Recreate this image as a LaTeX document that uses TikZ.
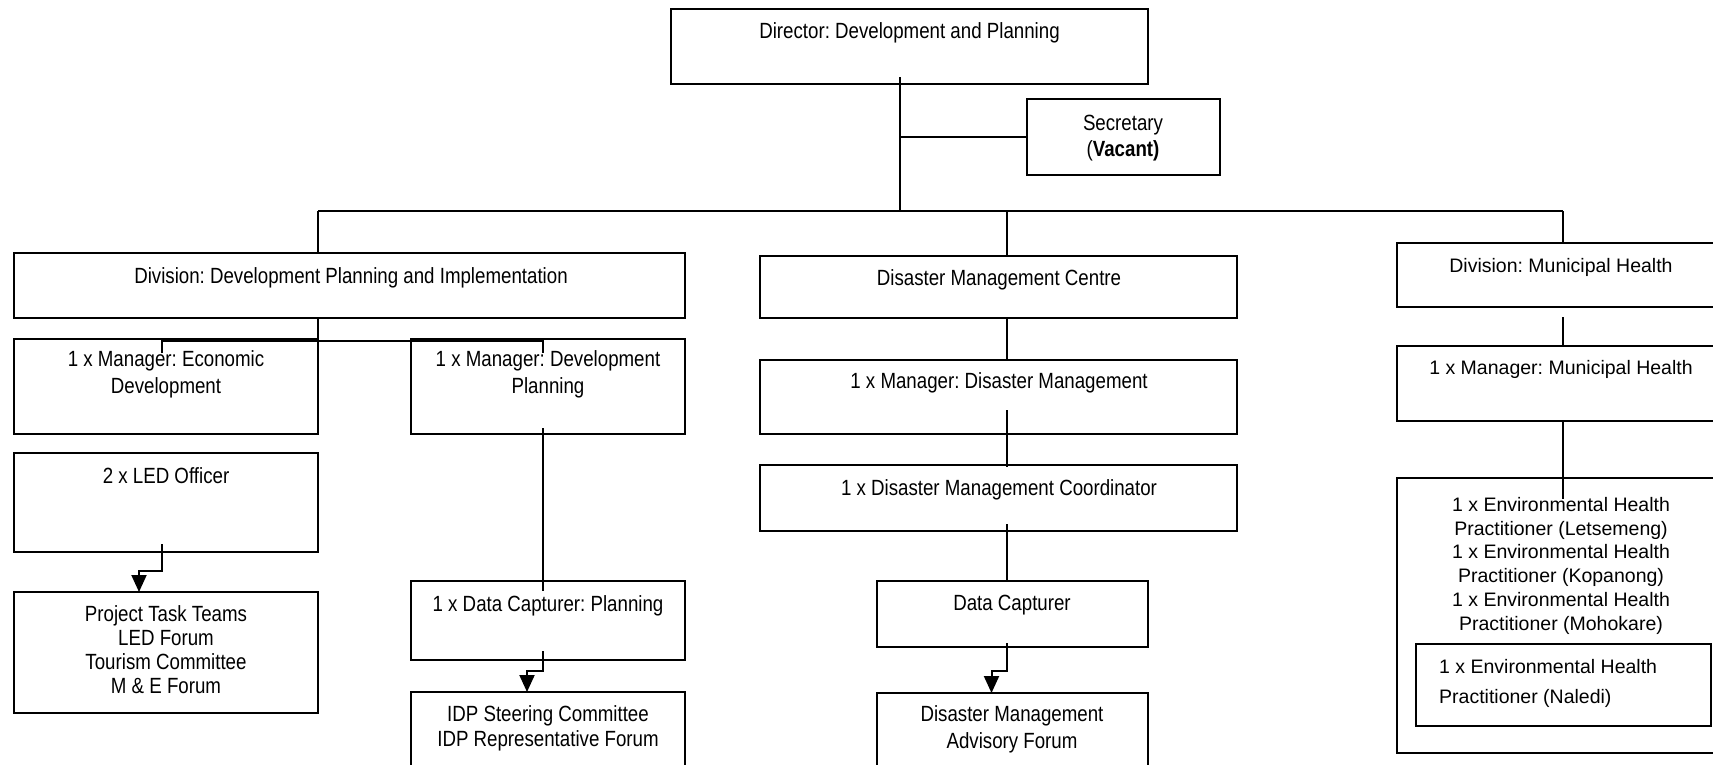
\documentclass[tikz,border=0pt]{standalone}
\usepackage{fontspec}
\setmainfont{Liberation Sans}
\newfontfamily\narrowfont{Liberation Sans}[FakeStretch=0.85]
\frenchspacing
\usetikzlibrary{arrows.meta,calc,positioning}
\tikzset{unit/.style={draw, line width=2pt, anchor=north west, inner sep=0pt, outer sep=0pt},
txt/.style={anchor=north, align=center, inner sep=0pt, font=\narrowfont\fontsize{22}{25.5}\selectfont},
htxt/.style={anchor=north, align=center, inner sep=0pt, font=\fontsize{19.5}{23.8}\selectfont},
link/.style={line width=2pt},
arr/.style={line width=2pt, -{Triangle[width=15pt,length=17pt]}}}

\begin{document}
\begin{tikzpicture}[x=1pt, y=-1pt]
\path[use as bounding box] (0,0) rectangle (1713,764);
\clip (0,0) rectangle (1713,764);

% top of the chart
\node[unit, minimum width=477pt, minimum height=75pt] (dir) at (671,9) {};
\node[txt] (dir-t) at (909.5,22) {Director: Development and Planning};
\node[unit, minimum width=193pt, minimum height=76pt] (sec) at (1027,99) {};
\node[txt, font=\narrowfont\fontsize{22}{26}\selectfont] (sec-t) at (1123,115) {Secretary\\(\textbf{Vacant)}};

\coordinate (busL) at (318,211);
\coordinate (hub) at (900,211);
\coordinate (busM) at (1007,211);
\coordinate (busR) at (1563,211);

% divisions
\node[unit, minimum width=671pt, minimum height=65pt] (dpi) at (14,253) {};
\node[txt] (dpi-t) at (351,267) {Division: Development Planning and Implementation};
\node[unit, minimum width=477pt, minimum height=62pt] (dmc) at (760,256) {};
\node[txt] (dmc-t) at (999,269) {Disaster Management Centre};
\node[unit, minimum width=343pt, minimum height=64pt] (dmh) at (1397,243) {};
\node[htxt] (dmh-t) at (1561,258) {Division: Municipal Health};

% development planning column
\node[unit, minimum width=304pt, minimum height=95pt] (med) at (14,339) {};
\node[txt, font=\narrowfont\fontsize{22}{27}\selectfont] (med-t) at (166,350) {1 x Manager: Economic\\Development};
\node[unit, minimum width=274pt, minimum height=95pt] (mdp) at (411,339) {};
\node[txt, font=\narrowfont\fontsize{22}{27}\selectfont] (mdp-t) at (548,350) {1 x Manager: Development\\Planning};
\node[unit, minimum width=304pt, minimum height=99pt] (led) at (14,453) {};
\node[txt] (led-t) at (166,467) {2 x LED Officer};
\node[unit, minimum width=304pt, minimum height=121pt] (ptt) at (14,592) {};
\node[txt, font=\narrowfont\fontsize{22}{24}\selectfont] (ptt-t) at (166,605) {Project Task Teams\\LED Forum\\Tourism Committee\\M \& E Forum};
\node[unit, minimum width=274pt, minimum height=79pt] (dcp) at (411,581) {};
\node[txt] (dcp-t) at (548,595) {1 x Data Capturer: Planning};
\node[unit, minimum width=274pt, minimum height=90pt] (idp) at (411,692) {};
\node[txt] (idp-t) at (548,705) {IDP Steering Committee\\IDP Representative Forum};

% disaster management column
\node[unit, minimum width=477pt, minimum height=74pt] (mgrdm) at (760,360) {};
\node[txt] (mgrdm-t) at (999,372) {1 x Manager: Disaster Management};
\node[unit, minimum width=477pt, minimum height=66pt] (coord) at (760,465) {};
\node[txt] (coord-t) at (999,479) {1 x Disaster Management Coordinator};
\node[unit, minimum width=271pt, minimum height=66pt] (dc) at (877,581) {};
\node[txt] (dc-t) at (1012,595) {Data Capturer};
\node[unit, minimum width=271pt, minimum height=90pt] (dmaf) at (877,693) {};
\node[txt, font=\narrowfont\fontsize{22}{27}\selectfont] (dmaf-t) at (1012,705) {Disaster Management\\Advisory Forum};

% municipal health column
\node[unit, minimum width=343pt, minimum height=75pt] (mgrmh) at (1397,346) {};
\node[htxt] (mgrmh-t) at (1561,360) {1 x Manager: Municipal Health};
\node[unit, minimum width=343pt, minimum height=275pt] (ehp) at (1397,478) {};
\node[htxt] (ehp-t) at (1561,497) {1 x Environmental Health\\Practitioner (Letsemeng)\\1 x Environmental Health\\Practitioner (Kopanong)\\1 x Environmental Health\\Practitioner (Mohokare)};
\node[unit, minimum width=295pt, minimum height=82pt] (nal) at (1416,644) {};
\node[htxt, anchor=north west, align=left, font=\fontsize{19.5}{30}\selectfont] (nal-t) at (1439,659) {1 x Environmental Health\\Practitioner (Naledi)};

% connectors
\draw[link] ($(hub |- dir.south)+(0,-7)$) -- (hub);
\draw[link] (hub |- sec.west) -- (sec.west);
\draw[link] (busL) -- (busR);
\draw[link] (busL) -- (busL |- dpi.north);
\draw[link] (busM) -- (busM |- dmc.north);
\draw[link] (busR) -- (busR |- dmh.north);

\draw[link] (busL |- dpi.south) -- ++(0,23);
\draw[link] ($(med.north)+(-4,14)$) |- ($(mdp.north)+(-5,2)$) -- ++(0,12);
\draw[arr] ($(led.south)+(-4,-8)$) -- ++(0,27) -| ($(ptt.north)+(-27,0)$);
\draw[link] ($(mdp.south)+(-5,-6)$) -- ($(dcp.north)+(-5,10)$);
\draw[arr] ($(dcp.south)+(-5,-9)$) -- ++(0,20) -| ($(idp.north)+(-21,0)$);

\draw[link] (busM |- dmc.south) -- (busM |- mgrdm.north);
\draw[link] ($(busM |- mgrdm.south)+(0,-24)$) -- ($(busM |- coord.north)+(0,2)$);
\draw[link] ($(busM |- coord.south)+(0,-7)$) -- (busM |- dc.north);
\draw[arr] ($(busM |- dc.south)+(0,-4)$) -- ++(0,28) -| ($(dmaf.north)+(-21,0)$);

\draw[link] ($(busR |- dmh.south)+(0,10)$) -- (busR |- mgrmh.north);
\draw[link] (busR |- mgrmh.south) -- ($(busR |- ehp.north)+(0,21)$);
\end{tikzpicture}
\end{document}
